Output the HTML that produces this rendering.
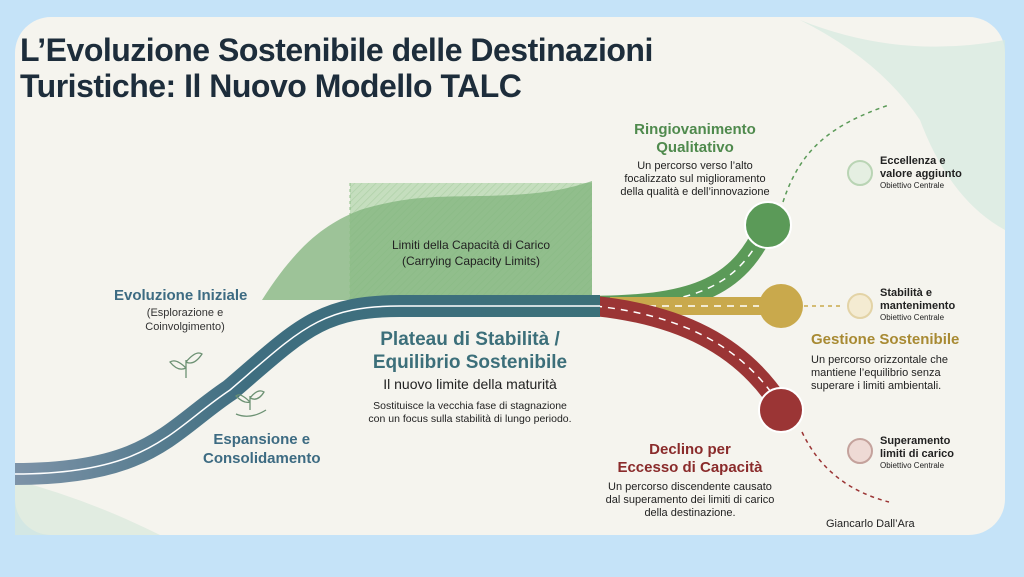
<!DOCTYPE html>
<html><head><meta charset="utf-8"><style>
body{margin:0;width:1024px;height:577px;background:#c5e3f8;overflow:hidden;font-family:"Liberation Sans",sans-serif}
.card{position:absolute;left:15px;top:17px;width:990px;height:518px;background:#f5f4ee;border-radius:36px;overflow:hidden}
svg{position:absolute;left:0;top:0}
.t{position:absolute;white-space:nowrap}
</style></head><body>
<div class="card"></div>
<svg width="1024" height="577" viewBox="0 0 1024 577">
<defs>
<linearGradient id="rg" x1="0" x2="1" y1="0" y2="0"><stop offset="0" stop-color="#7d93a8"/><stop offset="0.4" stop-color="#3f6e80"/><stop offset="1" stop-color="#3b7079"/></linearGradient>
<pattern id="h" width="5" height="5" patternUnits="userSpaceOnUse" patternTransform="rotate(45)"><rect width="5" height="5" fill="#b9d9b2"/><line x1="0" y1="0" x2="0" y2="5" stroke="#a0c998" stroke-width="1.5"/></pattern>
</defs>
<path d="M800 20 Q900 60 1005 40 L1005 230 Q950 200 920 120 Q880 60 800 20Z" fill="#d6e9e0" opacity="0.7"/>
<path d="M15 480 Q90 500 160 535 L15 535Z" fill="#d8e8dc" opacity="0.7"/>
<rect x="350" y="183" width="242" height="117" fill="url(#h)" opacity="0.8"/>
<path d="M262 300 C300 240 330 222 360 210 C410 195 440 197 480 196 C540 195 565 190 592 181 L592 300Z" fill="#7fb37b" opacity="0.75"/>
<line x1="350" y1="183" x2="350" y2="300" stroke="#8fbf88" stroke-dasharray="3 3"/>
<!-- branches -->
<path d="M580 306 C680 306 735 295 765 228" fill="none" stroke="#5b9a58" stroke-width="20"/>
<path d="M580 306 C680 306 735 295 765 228" fill="none" stroke="#fff" stroke-width="1.5" stroke-dasharray="7 6"/>
<path d="M610 306 L780 306" stroke="#c9a94c" stroke-width="18"/>
<path d="M610 306 L780 306" stroke="#fff" stroke-width="1.5" stroke-dasharray="7 6"/>
<path d="M595 306 C680 315 740 345 778 402" fill="none" stroke="#9b3535" stroke-width="20"/>
<path d="M595 306 C680 315 740 345 778 402" fill="none" stroke="#fff" stroke-width="1.5" stroke-dasharray="7 6"/>
<!-- main road -->
<path d="M15 474 C150 474 170 430 230 390 C300 330 320 306 400 306 L600 306" fill="none" stroke="url(#rg)" stroke-width="22"/>
<path d="M15 474 C150 474 170 430 230 390 C300 330 320 306 400 306 L600 306" fill="none" stroke="#fff" stroke-width="1.5"/>
<circle cx="768" cy="225" r="23" fill="#5b9a58" stroke="#fff" stroke-width="2"/>
<circle cx="781" cy="306" r="22" fill="#c9a94c"/>
<circle cx="781" cy="410" r="22" fill="#9b3535" stroke="#fff" stroke-width="2"/>
<path d="M783 202 C800 150 830 125 889 105" fill="none" stroke="#5b9a58" stroke-width="1.5" stroke-dasharray="4 4"/>
<path d="M804 306 L843 306" stroke="#c9a94c" stroke-width="1.5" stroke-dasharray="4 4"/>
<path d="M802 432 C820 470 850 492 889 502" fill="none" stroke="#9b3535" stroke-width="1.5" stroke-dasharray="4 4"/>
<circle cx="860" cy="173" r="12" fill="#e5efe2" stroke="#b9d4b4" stroke-width="2"/>
<circle cx="860" cy="306" r="12" fill="#f4ebd2" stroke="#e3d3a6" stroke-width="2"/>
<circle cx="860" cy="451" r="12" fill="#eedad5" stroke="#c4a29c" stroke-width="2"/>
<g stroke="#6c9173" fill="none" stroke-width="1.3"><path d="M186 378 L186 360 M186 368 Q176 358 170 362 Q178 372 186 368 M186 362 Q196 350 202 354 Q194 366 186 362"/><path d="M250 410 L250 396 M250 402 Q240 392 236 396 Q244 404 250 402 M250 398 Q258 388 264 392 Q258 402 250 398 M236 414 Q250 420 266 410"/></g>
</svg>
<div class="t" style="left:20px;top:32px;font-size:32px;font-weight:bold;color:#1d2d3b;line-height:36px;letter-spacing:-0.5px">L’Evoluzione Sostenibile delle Destinazioni<br>Turistiche: Il Nuovo Modello TALC</div>
<div class="t" style="left:114px;top:287px;font-size:15px;font-weight:bold;color:#3d6b82">Evoluzione Iniziale</div>
<div class="t" style="left:130px;top:306px;font-size:11px;color:#333;text-align:center;line-height:14px;width:110px">(Esplorazione e<br>Coinvolgimento)</div>
<div class="t" style="left:203px;top:430px;font-size:15px;font-weight:bold;color:#3d6b82;text-align:center;line-height:19px">Espansione e<br>Consolidamento</div>
<div class="t" style="left:352px;top:237px;width:238px;text-align:center;font-size:12px;color:#222;line-height:16px">Limiti della Capacità di Carico<br>(Carrying Capacity Limits)</div>
<div class="t" style="left:340px;top:328px;width:260px;text-align:center;font-size:19px;font-weight:bold;color:#3c6f7a;line-height:23px">Plateau di Stabilità /<br>Equilibrio Sostenibile</div>
<div class="t" style="left:340px;top:376px;width:260px;text-align:center;font-size:14px;color:#222">Il nuovo limite della maturità</div>
<div class="t" style="left:340px;top:400px;width:260px;text-align:center;font-size:10.5px;color:#222;line-height:13px">Sostituisce la vecchia fase di stagnazione<br>con un focus sulla stabilità di lungo periodo.</div>
<div class="t" style="left:600px;top:121px;width:190px;text-align:center;font-size:15px;font-weight:bold;color:#4f8a4d;line-height:18px">Ringiovanimento<br>Qualitativo</div>
<div class="t" style="left:600px;top:160px;width:190px;text-align:center;font-size:11px;color:#222;line-height:13px">Un percorso verso l’alto<br>focalizzato sul miglioramento<br>della qualità e dell’innovazione</div>
<div class="t" style="left:880px;top:155px;font-size:11px;font-weight:bold;color:#222;line-height:13px">Eccellenza e<br>valore aggiunto</div>
<div class="t" style="left:880px;top:181px;font-size:8px;color:#222">Obiettivo Centrale</div>
<div class="t" style="left:880px;top:287px;font-size:11px;font-weight:bold;color:#222;line-height:13px">Stabilità e<br>mantenimento</div>
<div class="t" style="left:880px;top:313px;font-size:8px;color:#222">Obiettivo Centrale</div>
<div class="t" style="left:880px;top:435px;font-size:11px;font-weight:bold;color:#222;line-height:13px">Superamento<br>limiti di carico</div>
<div class="t" style="left:880px;top:461px;font-size:8px;color:#222">Obiettivo Centrale</div>
<div class="t" style="left:811px;top:331px;font-size:15px;font-weight:bold;color:#a88a33">Gestione Sostenibile</div>
<div class="t" style="left:811px;top:354px;font-size:11px;color:#222;line-height:13px">Un percorso orizzontale che<br>mantiene l’equilibrio senza<br>superare i limiti ambientali.</div>
<div class="t" style="left:590px;top:441px;width:200px;text-align:center;font-size:15px;font-weight:bold;color:#8a2b2b;line-height:18px">Declino per<br>Eccesso di Capacità</div>
<div class="t" style="left:590px;top:481px;width:200px;text-align:center;font-size:11px;color:#222;line-height:13px">Un percorso discendente causato<br>dal superamento dei limiti di carico<br>della destinazione.</div>
<div class="t" style="left:826px;top:518px;font-size:11px;color:#222">Giancarlo Dall’Ara</div>
</body></html>
